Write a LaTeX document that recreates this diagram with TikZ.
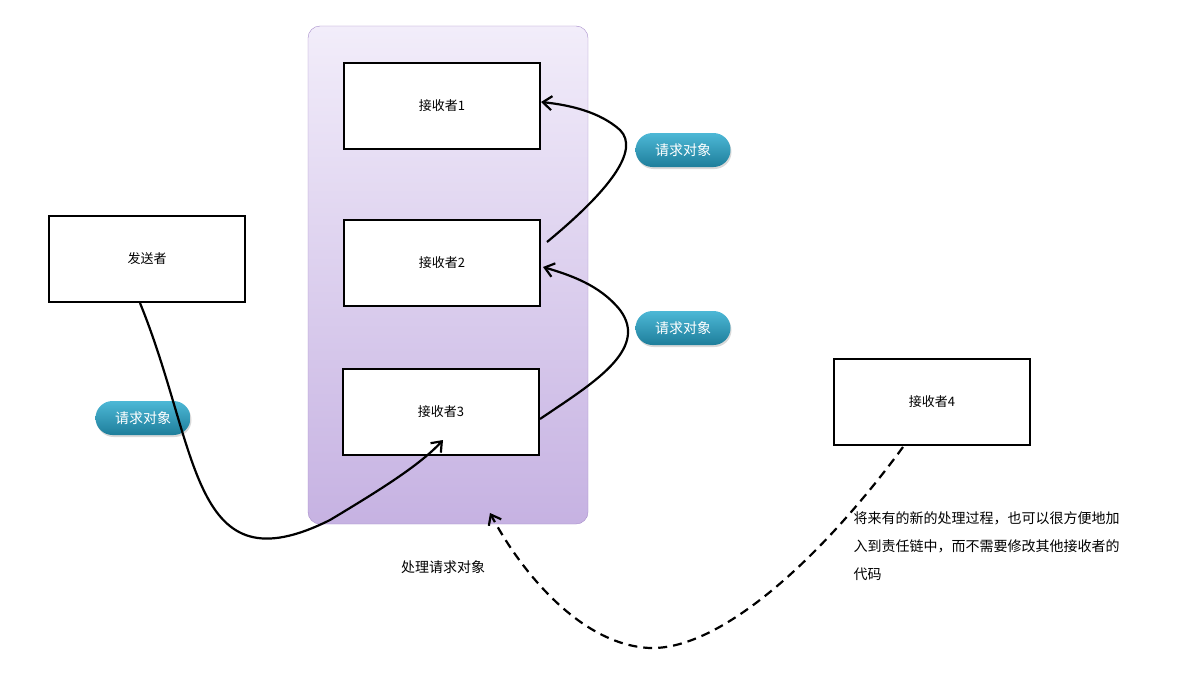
\documentclass[tikz,border=0pt]{standalone}
\usepackage{fontspec}
\setmainfont{Noto Sans CJK SC}
\usetikzlibrary{arrows.meta,shadows}
\definecolor{pbor}{HTML}{A58BC9}
\definecolor{ptop}{HTML}{F2EDFA}
\definecolor{pbot}{HTML}{C6B2E2}
\definecolor{tltop}{HTML}{4DB8D6}
\definecolor{tlbot}{HTML}{1E7E9B}
\begin{document}
\begin{tikzpicture}[x=1pt,y=-1pt,
  box/.style={draw=black,line width=2pt,fill=white,minimum width=196pt,minimum height=86pt,inner sep=0pt,font=\fontsize{13}{16}\selectfont},
  pill/.style={rounded corners=17pt,minimum width=95pt,minimum height=34pt,top color=tltop,bottom color=tlbot,text=white,font=\fontsize{14}{16}\selectfont,drop shadow={opacity=0.3,shadow xshift=1pt,shadow yshift=-2pt}},
  con/.style={line width=2.2pt,-{Straight Barb[length=9pt,width=14pt]}},
  lbl/.style={font=\fontsize{14}{16}\selectfont}]
\useasboundingbox (0,0) rectangle (1190,685);
\node[draw=pbor,rounded corners=12pt,top color=ptop,bottom color=pbot,minimum width=280pt,minimum height=498pt,inner sep=0pt] (grp) at (448,275) {};
\node[box] (r1) at (442,106) {接收者1};
\node[box] (r2) at (442,263) {接收者2};
\node[box] (r3) at (441,412) {接收者3};
\node[box] (s) at (147,259) {发送者};
\node[box] (r4) at (932,402) {接收者4};
\node[pill] (p1) at (683,150) {请求对象};
\node[pill] (p2) at (683,328) {请求对象};
\node[pill] (p3) at (143,418) {请求对象};
\coordinate (a3) at (443,440);
\coordinate (a2) at (543,267);
\coordinate (a1) at (541,102);
\coordinate (ad) at (490,513);
\draw[con] (140,303) .. controls (200,450) and (190,590) .. (330,520) .. controls (380,490) and (420,465) .. (a3);
\draw[con] (r3.east) ++(0,7) .. controls (590,385) and (650,350) .. (620,310) .. controls (600,285) and (570,275) .. (a2);
\draw[con] (547,242) .. controls (610,190) and (640,150) .. (620,130) .. controls (600,112) and (570,105) .. (a1);
\draw[con,dashed,dash pattern=on 9pt off 6pt] (903,447) .. controls (820,560) and (720,650) .. (650,648) .. controls (580,645) and (520,570) .. (ad);
\node[lbl] (t1) at (443,567) {处理请求对象};
\node[lbl,align=left,anchor=north west,font=\fontsize{14}{28}\selectfont] (t2) at (850,508) {将来有的新的处理过程，也可以很方便地加\\入到责任链中，而不需要修改其他接收者的\\代码};
\end{tikzpicture}
\end{document}
